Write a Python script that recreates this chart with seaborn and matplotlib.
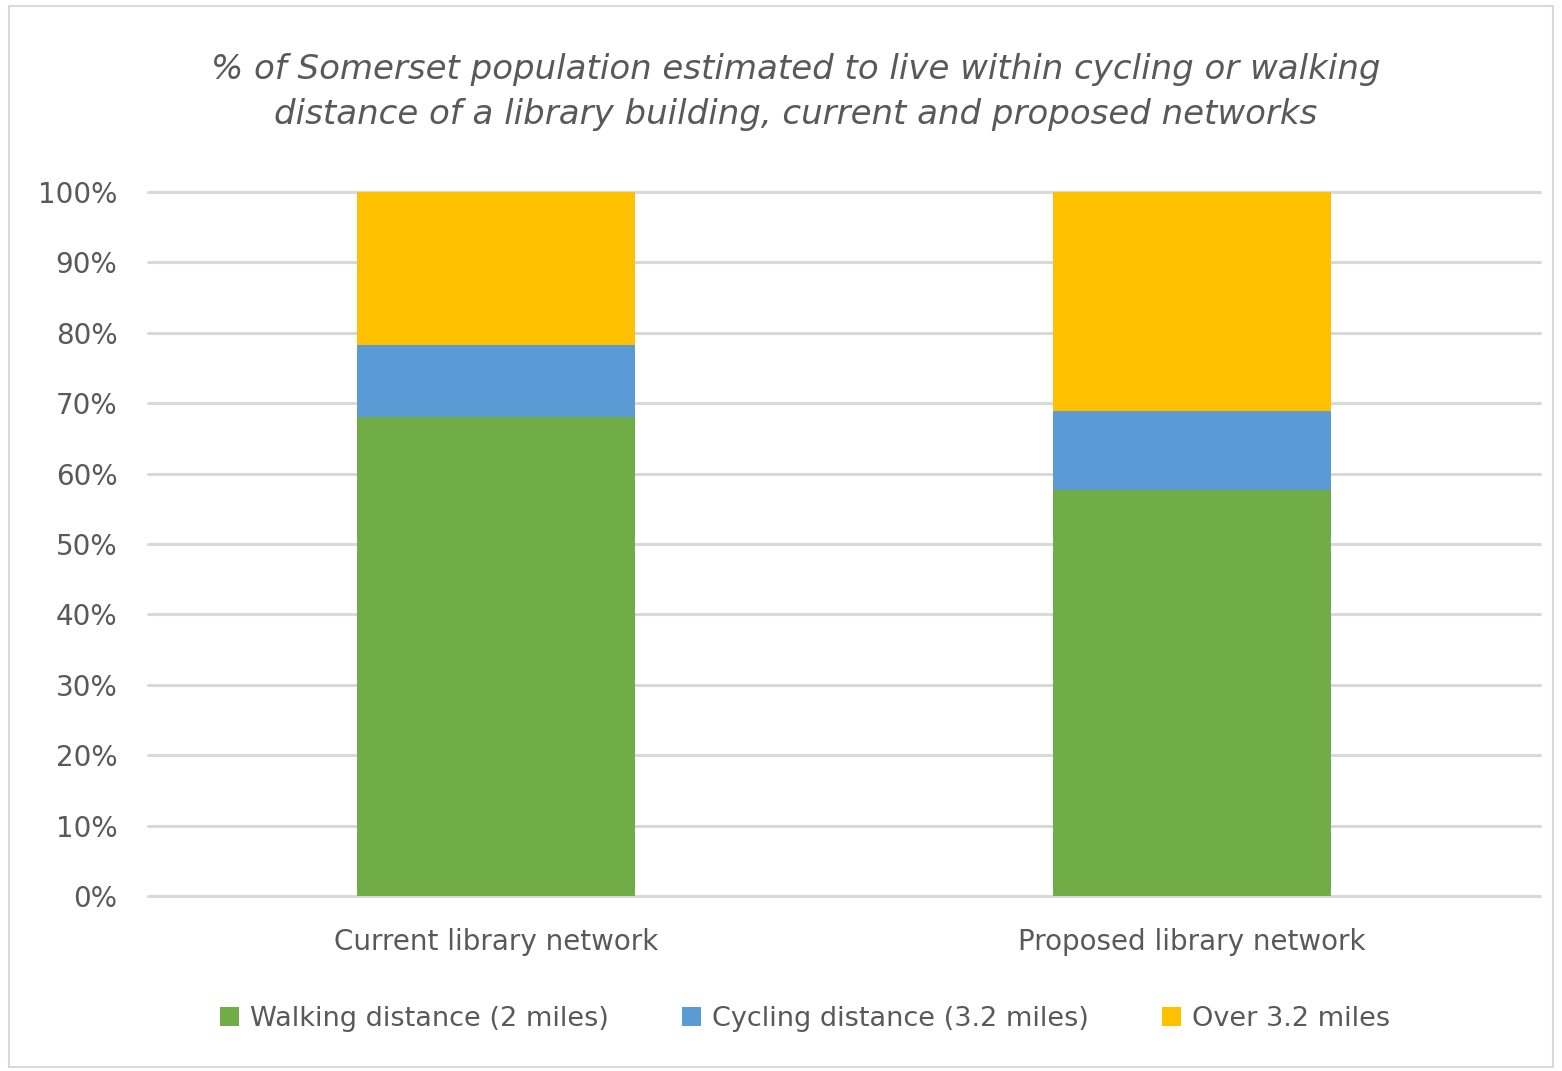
import matplotlib
matplotlib.use("Agg")
import matplotlib.pyplot as plt
import seaborn as sns
import pandas as pd
from matplotlib.patches import Patch, Rectangle

categories = ["Current library network", "Proposed library network"]
walking = [68.1, 57.7]
cycling = [10.1, 11.2]
over = [21.8, 31.1]
series_names = ["Walking distance (2 miles)", "Cycling distance (3.2 miles)", "Over 3.2 miles"]
colors = ["#70AD47", "#5B9BD5", "#FFC000"]
yticks = [0, 10, 20, 30, 40, 50, 60, 70, 80, 90, 100]
title = ("% of Somerset population estimated to live within cycling or walking\n"
         "distance of a library building, current and proposed networks")

sns.set_theme(style="white")
plt.rcParams['font.family'] = ['DejaVu Sans']
text_color = "#595959"

df = pd.DataFrame({"category": categories, "walking": walking,
                   "cycling": cycling, "over": over})
df["cum_cyc"] = df["walking"] + df["cycling"]
df["cum_over"] = df["cum_cyc"] + df["over"]

fig = plt.figure(figsize=(15.62, 10.71), dpi=100)
ax = fig.add_axes([148/1562, 1-896/1071, (1540-148)/1562, (896-192)/1071])

for col, c in [("cum_over", colors[2]), ("cum_cyc", colors[1]), ("walking", colors[0])]:
    sns.barplot(data=df, x="category", y=col, color=c, width=0.4, ax=ax,
                saturation=1, edgecolor="none", linewidth=0, zorder=3)

ax.set_xlim(-0.5, 1.5)
ax.set_ylim(0, 100)
ax.set_yticks(yticks)
ax.set_yticklabels([f"{v}%" for v in yticks])
ax.set_xlabel("")
ax.set_ylabel("")
for s in ax.spines.values():
    s.set_visible(False)
ax.yaxis.grid(True, color="#D9D9D9", linewidth=2.2, zorder=0)
for gl in ax.get_ygridlines():
    gl.set_clip_on(False)
ax.set_axisbelow(True)
ax.tick_params(axis="y", length=0, pad=22, labelsize=20, labelcolor=text_color)
ax.tick_params(axis="x", length=0, pad=23, labelsize=20, labelcolor=text_color)

fig.text(796/1562, 1-92/1071, title, ha="center", va="center", fontsize=24.5,
         style="italic", color=text_color, linespacing=1.45)

handles = [Patch(facecolor=c, edgecolor="none") for c in colors]
fig.legend(handles, series_names, loc="center", bbox_to_anchor=(805/1562, 1-1019/1071),
           ncol=3, frameon=False, fontsize=19.5, labelcolor=text_color,
           handlelength=0.7, handleheight=0.7, handletextpad=0.4, columnspacing=2.7)

fig.patches.append(Rectangle((0.006, 0.004), 0.988, 0.99, transform=fig.transFigure,
                             fill=False, edgecolor="#D9D9D9", linewidth=1.5))

fig.savefig("out.png", dpi=100)
